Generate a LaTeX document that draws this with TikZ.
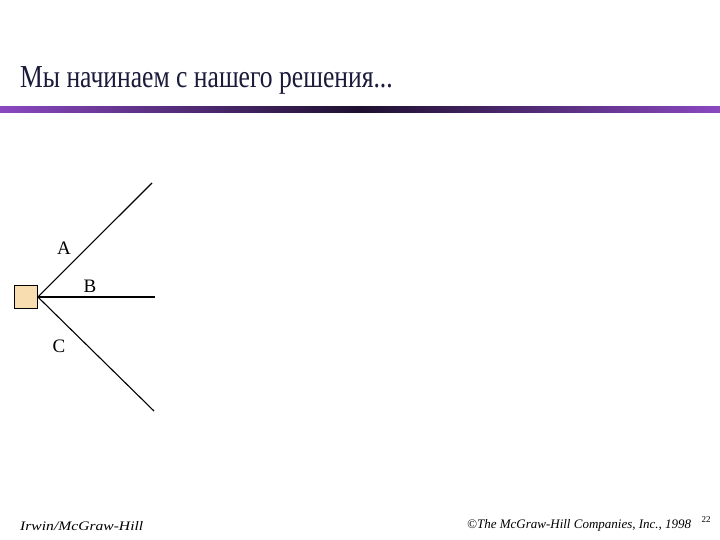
\documentclass[tikz,border=0pt]{standalone}
\usepackage{fontspec}
\setmainfont{Liberation Serif}
\newfontfamily\titlefont[FakeStretch=0.8]{Liberation Serif}
\newfontfamily\widefoot[FakeStretch=1.2]{Liberation Serif}
\definecolor{titlecol}{HTML}{1A1A3A}
\definecolor{barpurple}{HTML}{8A48C0}
\definecolor{bardark}{HTML}{1E1030}
\definecolor{boxfill}{HTML}{F8DDB0}
\begin{document}
\begin{tikzpicture}[x=1pt,y=-1pt,
  lbl/.style={inner sep=0pt,font=\fontsize{19}{19}\selectfont},
  branch/.style={line width=1.1pt,black},
  foot/.style={inner sep=0pt,anchor=base west}]
\useasboundingbox (0,0) rectangle (720,540);
\node[anchor=base west,inner sep=0pt,text=titlecol,font=\titlefont\fontsize{32}{32}\selectfont] (title) at (20,88) {Мы начинаем с нашего решения...};
\shade[left color=barpurple,right color=barpurple,middle color=bardark] (0,107) rectangle (720,113);
\node[draw=black,fill=boxfill,minimum width=23pt,minimum height=23pt,inner sep=0pt,line width=0.8pt] (box) at (26,297) {};
\coordinate (a) at (152,183);
\coordinate (b) at (155,297);
\coordinate (c) at (154,411);
\draw[branch] (box.east) -- (a);
\draw[branch] (box.east) -- (b);
\draw[branch] (box.east) -- (c);
\node[lbl] (la) at (64,248) {A};
\node[lbl] (lb) at (90,286) {B};
\node[lbl] (lc) at (59,346) {C};
\node[foot,font=\widefoot\fontsize{13}{13}\selectfont\itshape] (f1) at (20,530) {Irwin/McGraw-Hill};
\node[foot,font=\fontsize{13}{13}\selectfont\itshape] (f2) at (467,528) {©The McGraw-Hill Companies, Inc., 1998};
\node[inner sep=0pt,font=\fontsize{9}{9}\selectfont] (pg) at (706,520) {22};
\end{tikzpicture}
\end{document}
